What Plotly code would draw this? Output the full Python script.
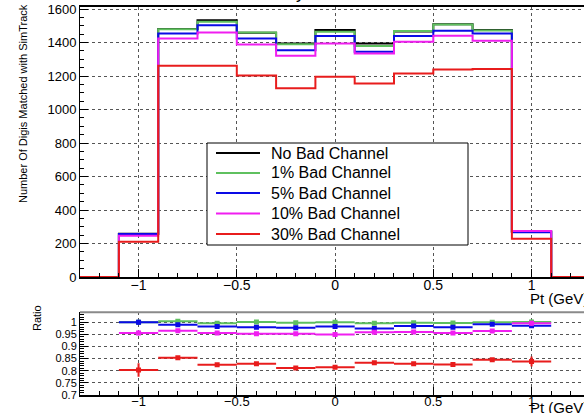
import plotly.graph_objects as go

# ---------------- data ----------------
pt_centers = [-1.0, -0.8, -0.6, -0.4, -0.2, 0.0, 0.2, 0.4, 0.6, 0.8, 1.0]
bin_width = 0.2
hist_lo, hist_hi = -1.3, 1.3

no_bad   = [258, 1482, 1534, 1459, 1395, 1475, 1395, 1466, 1510, 1476, 272]
bad_1    = [257, 1480, 1524, 1461, 1390, 1465, 1380, 1469, 1508, 1472, 272]
bad_5    = [257, 1455, 1504, 1425, 1355, 1439, 1345, 1439, 1471, 1455, 268]
bad_10   = [247, 1425, 1461, 1389, 1322, 1395, 1335, 1405, 1441, 1411, 275]
bad_30   = [211, 1262, 1262, 1204, 1127, 1196, 1156, 1216, 1240, 1242, 228]

ratio_1  = [1.000, 1.004, 0.996, 1.001, 0.998, 1.000, 0.996, 0.998, 0.997, 1.000, 1.001]
ratio_5  = [1.000, 0.990, 0.982, 0.979, 0.977, 0.982, 0.974, 0.985, 0.979, 0.992, 0.986]
ratio_10 = [0.956, 0.965, 0.956, 0.953, 0.953, 0.949, 0.959, 0.960, 0.956, 0.964, 0.996]
ratio_30 = [0.803, 0.854, 0.825, 0.829, 0.811, 0.814, 0.833, 0.829, 0.826, 0.845, 0.838]

err_1  = [0.010, 0.003, 0.003, 0.003, 0.003, 0.003, 0.003, 0.003, 0.003, 0.003, 0.010]
err_5  = [0.010, 0.003, 0.003, 0.003, 0.003, 0.003, 0.003, 0.003, 0.003, 0.003, 0.010]
err_10 = [0.010, 0.003, 0.003, 0.003, 0.003, 0.003, 0.003, 0.003, 0.003, 0.003, 0.010]
err_30 = [0.028, 0.004, 0.004, 0.004, 0.004, 0.004, 0.004, 0.004, 0.004, 0.004, 0.021]

legend_names = ["No Bad Channel", "1% Bad Channel", "5% Bad Channel",
                "10% Bad Channel", "30% Bad Channel"]
ratio_tickvals = [0.7, 0.75, 0.8, 0.85, 0.9, 0.95, 1.0]
ratio_ticktext = ["0.7", "0.75", "0.8", "0.85", "0.9", "0.95", "1"]

y_title = "Number Of Digis Matched with SimTrack"
ratio_title = "Ratio"
x_title = "Pt (GeV)"

# ---------------- style ----------------
colors = ["#000000", "#5fc05f", "#0a0ae6", "#f01ef0", "#e81c1c"]
FONT = "Liberation Sans, Arial, sans-serif"
W, H = 584, 413


def px(x):
    return x / W


def py(y):
    return 1 - y / H


# step coordinates through bin edges
edges = [hist_lo] + [c - bin_width / 2 for c in pt_centers] + \
        [pt_centers[-1] + bin_width / 2, hist_hi]

fig = go.Figure()

series = [no_bad, bad_1, bad_5, bad_10, bad_30]
for name, vals, col in zip(legend_names, series, colors):
    ys = [0] + list(vals) + [0, 0]
    fig.add_trace(go.Scatter(
        x=edges, y=ys, mode="lines", line=dict(color=col, width=2, shape="hv"),
        name=name, xaxis="x", yaxis="y", showlegend=False))

ratios = [ratio_1, ratio_5, ratio_10, ratio_30]
errs = [err_1, err_5, err_10, err_30]
for vals, e, col in zip(ratios, errs, colors[1:]):
    fig.add_trace(go.Scatter(
        x=pt_centers, y=vals, mode="markers",
        marker=dict(symbol="square", size=5, color=col),
        error_x=dict(type="constant", value=bin_width / 2, color=col, thickness=2, width=0),
        error_y=dict(type="data", array=e, color=col, thickness=2, width=0),
        xaxis="x2", yaxis="y2", showlegend=False))

x_dom = [px(80), 1.0]
x_rng = [-1.298, 1.267]
grid = dict(showgrid=True, gridcolor="#555555", griddash="dot", gridwidth=1)

common_x = dict(domain=x_dom, range=x_rng, dtick=0.5, tick0=0, ticks="inside",
                ticklen=8, tickcolor="black", showline=True, linecolor="black",
                linewidth=1.5, zeroline=False, ticklabelstandoff=-6,
                minor=dict(dtick=0.1, tick0=0, ticks="inside", ticklen=4,
                           tickcolor="black", showgrid=False),
                **grid)

# legend drawn as a boxed key in paper coordinates
leg_box = dict(x0=207, x1=468, y0=143, y1=245)
leg_rows = [153, 173, 193, 213.5, 234]
shapes = [dict(type="line", xref="paper", yref="paper",
               x0=px(80), x1=1, y0=py(312.3), y1=py(312.3),
               line=dict(color="#8a8a8a", width=2)),
          dict(type="rect", xref="paper", yref="paper",
               x0=px(leg_box["x0"]), x1=px(leg_box["x1"]),
               y0=py(leg_box["y1"]), y1=py(leg_box["y0"]),
               fillcolor="white", line=dict(color="black", width=1))]
annotations = []
for name, col, ry in zip(legend_names, colors, leg_rows):
    shapes.append(dict(type="line", xref="paper", yref="paper",
                       x0=px(216), x1=px(260), y0=py(ry), y1=py(ry),
                       line=dict(color=col, width=2)))
    annotations.append(dict(text=name, xref="paper", yref="paper",
                            x=px(269), y=py(ry), xanchor="left", yanchor="middle",
                            showarrow=False, font=dict(size=16, family=FONT)))

annotations += [
    dict(text=y_title, textangle=-90, xref="paper", yref="paper",
         x=px(23), y=py(104), xanchor="center", yanchor="middle", showarrow=False,
         font=dict(size=11, family=FONT)),
    dict(text=ratio_title, textangle=-90, xref="paper", yref="paper",
         x=px(37), y=py(318), xanchor="center", yanchor="middle", showarrow=False,
         font=dict(size=11, family=FONT)),
    dict(text=x_title, xref="paper", yref="paper", x=px(528), y=py(298),
         xanchor="left", yanchor="middle", showarrow=False,
         font=dict(size=15, family=FONT)),
    dict(text=x_title, xref="paper", yref="paper", x=px(528), y=py(407),
         xanchor="left", yanchor="middle", showarrow=False,
         font=dict(size=15, family=FONT)),
    dict(text="y", xref="paper", yref="paper", x=px(300), y=py(4),
         xanchor="center", yanchor="bottom", showarrow=False,
         font=dict(size=18, family=FONT)),
]

fig.update_layout(
    width=W, height=H, margin=dict(l=0, r=0, t=0, b=0, autoexpand=False),
    paper_bgcolor="white", plot_bgcolor="white",
    font=dict(family=FONT, color="black"),
    showlegend=False,
    xaxis=dict(anchor="y", mirror=True, tickfont=dict(size=14), **common_x),
    yaxis=dict(domain=[py(277), py(7.3)], range=[0, 1611], dtick=200,
               ticks="inside", ticklen=8, tickcolor="black", showline=True,
               linecolor="black", linewidth=1, zeroline=False,
               tickfont=dict(size=13),
               minor=dict(dtick=50, ticks="inside", ticklen=4, tickcolor="black",
                          showgrid=False),
               **grid),
    xaxis2=dict(anchor="y2", tickfont=dict(size=13), **common_x),
    yaxis2=dict(domain=[py(395), py(312.3)], range=[0.7, 1.041],
                tickvals=ratio_tickvals, ticktext=ratio_ticktext,
                ticks="inside", ticklen=8, tickcolor="black", showline=True,
                linecolor="black", linewidth=1, zeroline=False,
                tickfont=dict(size=11),
                minor=dict(dtick=0.01, tick0=0.7, ticks="inside", ticklen=4,
                           tickcolor="black", showgrid=False),
                **grid),
    shapes=shapes,
    annotations=annotations,
)

fig.write_html("out.html",
               config={"displayModeBar": False},
               post_script="document.body.style.margin='0';"
                           "document.body.style.overflow='hidden';")
